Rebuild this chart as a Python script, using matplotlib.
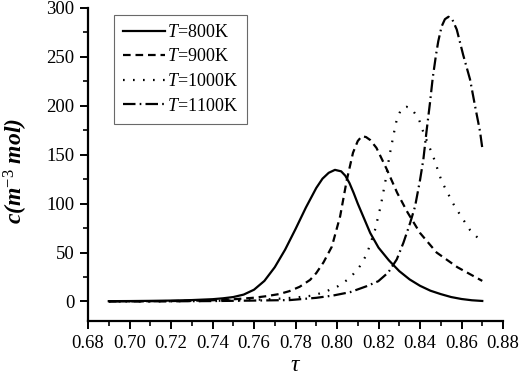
import numpy as np
import matplotlib
matplotlib.use('Agg')
import matplotlib.pyplot as plt
from matplotlib.ticker import MultipleLocator

plt.rcParams['font.family'] = ['Liberation Serif', 'DejaVu Serif']
plt.rcParams['mathtext.fontset'] = 'custom'
plt.rcParams['mathtext.rm'] = 'Liberation Serif'
plt.rcParams['mathtext.it'] = 'Liberation Serif:italic'
plt.rcParams['mathtext.bf'] = 'Liberation Serif:bold:italic'
plt.rcParams['lines.scale_dashes'] = False

# T = 800K
tau_800 = [0.69, 0.70, 0.71, 0.72, 0.73, 0.74, 0.745, 0.75, 0.755, 0.76, 0.765, 0.77,
           0.775, 0.78, 0.785, 0.79, 0.793, 0.796, 0.799, 0.802, 0.804, 0.806, 0.808,
           0.81, 0.813, 0.816, 0.82, 0.825, 0.83, 0.835, 0.84, 0.845, 0.85, 0.855,
           0.86, 0.865, 0.87]
c_800 = [0.3, 0.4, 0.6, 0.9, 1.4, 2.3, 3.2, 4.5, 7, 12, 21, 35,
         53, 74, 96, 116, 125.5, 131.5, 134.5, 133, 128.5, 121, 111,
         100, 85, 70, 55, 42, 31, 22.5, 16, 11, 7.5, 4.5,
         2.5, 1.2, 0.5]

# T = 900K
tau_900 = [0.69, 0.70, 0.71, 0.72, 0.73, 0.74, 0.75, 0.76, 0.766, 0.772, 0.777, 0.782,
           0.787, 0.790, 0.7935, 0.7975, 0.8015, 0.8047, 0.8077, 0.810, 0.812, 0.814,
           0.816, 0.819, 0.824, 0.829, 0.834, 0.84, 0.848, 0.858, 0.87]
c_900 = [0.1, 0.15, 0.25, 0.4, 0.7, 1.2, 2.2, 3.8, 5.4, 7.5, 10.5, 15,
         22, 29, 40, 56, 87, 124, 152, 164, 169, 168,
         165, 157, 135, 111, 91, 70, 50, 35, 21]

# T = 1000K
tau_1000 = [0.69, 0.70, 0.71, 0.72, 0.73, 0.74, 0.75, 0.76, 0.77, 0.78, 0.7885, 0.795,
            0.8005, 0.8063, 0.811, 0.8143, 0.8183, 0.8211, 0.8234, 0.8252, 0.8275,
            0.8288, 0.831, 0.8335, 0.836, 0.8395, 0.8416, 0.8464, 0.8504, 0.8533,
            0.8565, 0.8601, 0.8641, 0.8697]
c_1000 = [0.0, 0.05, 0.1, 0.2, 0.35, 0.6, 1.0, 1.6, 2.5, 4.0, 6, 10.5,
          15.6, 24, 36, 48, 73, 98, 124, 148, 173,
          186, 197, 199, 197, 186, 173, 148, 123, 111,
          98, 86, 73, 61]

# T = 1100K
tau_1100 = [0.69, 0.70, 0.72, 0.74, 0.76, 0.77, 0.7773, 0.790, 0.798, 0.8063, 0.8143,
            0.8199, 0.8247, 0.8288, 0.832, 0.8352, 0.8376, 0.840, 0.8416, 0.8432,
            0.8448, 0.8461, 0.8477, 0.8488, 0.8504, 0.852, 0.8537, 0.8555, 0.8577,
            0.8608, 0.8641, 0.8665, 0.8689, 0.870]
c_1100 = [0.0, 0.05, 0.15, 0.4, 0.9, 1.2, 1.4, 3.7, 6, 9.5, 15.6,
          20.7, 29.6, 43, 60, 80, 97, 124, 145, 175,
          203, 228, 252, 266, 281, 288.5, 291, 288.5, 278,
          252, 227, 200, 174, 157]

fig = plt.figure(figsize=(5.19, 3.79), dpi=100)
ax = fig.add_axes([0.1696, 0.153, 0.7996, 0.826])

ax.plot(tau_800, c_800, color='k', lw=1.6, ls='-', label='$T$=800K')
ax.plot(tau_900, c_900, color='k', lw=1.6, ls=(0, (5.5, 3.5)), label='$T$=900K')
ax.plot(tau_1000, c_1000, color='k', lw=1.6, ls=(0, (1.2, 6)), label='$T$=1000K')
ax.plot(tau_1100, c_1100, color='k', lw=1.6, ls=(0, (9, 3, 1.2, 3)), label='$T$=1100K')

ax.set_xlim(0.68, 0.88)
ax.set_ylim(-20, 300)
ax.xaxis.set_major_locator(MultipleLocator(0.02))
ax.xaxis.set_minor_locator(MultipleLocator(0.01))
ax.set_yticks([0, 50, 100, 150, 200, 250, 300])
ax.set_yticks([25, 75, 125, 175, 225, 275], minor=True)
ax.xaxis.set_major_formatter(plt.FormatStrFormatter('%.2f'))

ax.spines['top'].set_visible(False)
ax.spines['right'].set_visible(False)
ax.spines['left'].set_linewidth(1.6)
ax.spines['bottom'].set_linewidth(1.6)
ax.tick_params(which='major', direction='out', length=6, width=1.4, labelsize=13.5, pad=4)
ax.tick_params(which='minor', direction='out', length=3.5, width=1.2)

ax.set_xlabel(r'$\tau$', fontsize=17)
ax.xaxis.set_label_coords(0.5, -0.11)
ax.set_ylabel('c(m$^{-3}$ mol)', fontsize=17, fontweight='bold', fontstyle='italic')
ax.yaxis.set_label_coords(-0.14, 0.48)

leg = ax.legend(loc='upper left', bbox_to_anchor=(0.063, 0.978), borderaxespad=0,
                fontsize=13, handlelength=2.3, handletextpad=0.15, labelspacing=0.42,
                borderpad=0.5, fancybox=False, frameon=True)
leg.get_frame().set_edgecolor('#444444')
leg.get_frame().set_linewidth(0.8)

fig.savefig('out.png', dpi=100)
